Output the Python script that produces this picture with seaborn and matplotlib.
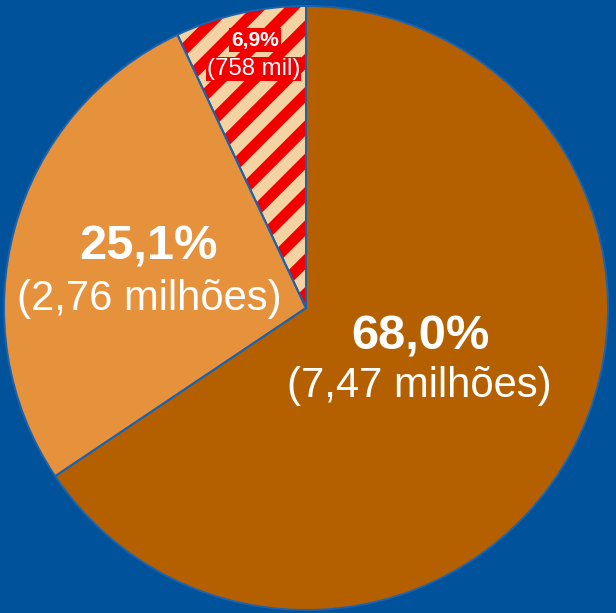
import matplotlib
matplotlib.use("Agg")
from matplotlib import pyplot as plt
import seaborn as sns

sns.set_style("white")
plt.rcParams['font.family'] = ['Liberation Sans', 'DejaVu Sans']
plt.rcParams['hatch.linewidth'] = 4.0
plt.rcParams['hatch.color'] = '#F20000'

# slices, clockwise from 12 o'clock
groups = ['maior', 'medio', 'menor']
pct_labels = ['68,0%', '25,1%', '6,9%']
count_labels = ['(7,47 milhões)', '(2,76 milhões)', '(758 mil)']
# angular shares as drawn in the picture
wedge_shares = [65.6, 27.4, 7.0]

bg = '#00529B'
colors = ['#B56000', '#E6913C', '#F4D3A2']

DPI = 200
fig = plt.figure(figsize=(616 / DPI, 613 / DPI), dpi=DPI, facecolor=bg)
ax = fig.add_axes([4 / 616, 3 / 613, 604 / 616, 604 / 613])
ax.set_facecolor(bg)

wedges, _ = ax.pie(wedge_shares, colors=colors, startangle=90, counterclock=False,
                   radius=1, wedgeprops=dict(linewidth=0))
# striped small slice
wedges[2].set_edgecolor('#F20000')
wedges[2].set_hatch('//')

# thin outlines over the slices
ax.pie(wedge_shares, colors=['none'] * 3, startangle=90, counterclock=False,
       radius=1, wedgeprops=dict(linewidth=0.7, edgecolor='#1d62ad'))

ax.set_xlim(-1, 1)
ax.set_ylim(-1, 1)
ax.axis('off')

big = 48.7 * 72 / DPI
mid = 41.8 * 72 / DPI

# labels
ax.text(0.380, -0.139, pct_labels[0], color='white', fontsize=big, fontweight='bold',
        ha='center', va='baseline')
ax.text(0.376, -0.295, count_labels[0], color='white', fontsize=mid,
        ha='center', va='baseline')
ax.text(-0.522, 0.159, pct_labels[1], color='white', fontsize=big, fontweight='bold',
        ha='center', va='baseline')
ax.text(-0.520, -0.007, count_labels[1], color='white', fontsize=mid,
        ha='center', va='baseline')
ax.text(-0.169, 0.868, pct_labels[2], color='white', fontsize=21 * 72 / DPI,
        fontweight='bold', ha='center', va='baseline',
        bbox=dict(boxstyle='square,pad=0.12', fc='#F20000', ec='none'))
ax.text(-0.174, 0.772, count_labels[2], color='white', fontsize=24 * 72 / DPI,
        ha='center', va='baseline',
        bbox=dict(boxstyle='square,pad=0.05', fc='#F20000', ec='none'))

fig.savefig('out.png', dpi=DPI, facecolor=bg)
